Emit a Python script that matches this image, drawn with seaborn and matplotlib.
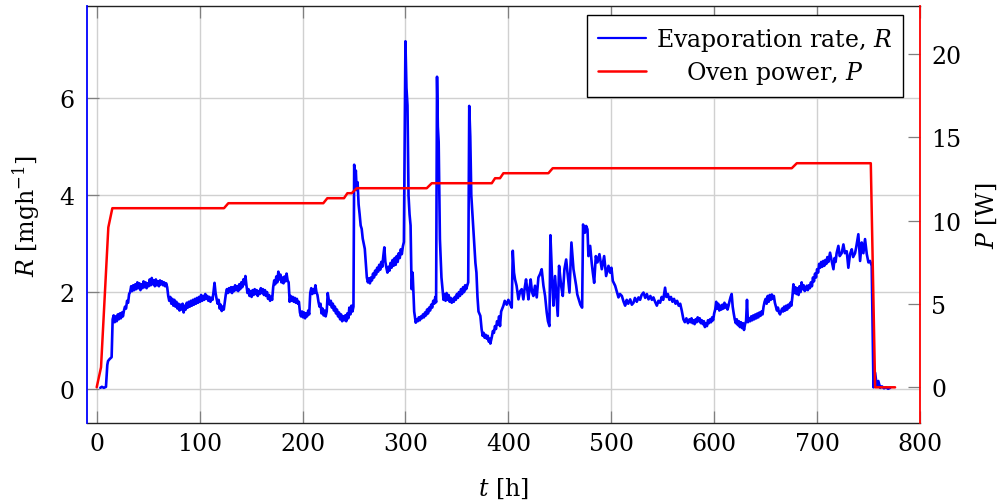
import matplotlib
matplotlib.use("Agg")
import matplotlib.pyplot as plt
import pandas as pd
import seaborn as sns

# Evaporation rate R [mg/h] over time t [h]
t_rate = [
    3.5, 5, 7, 9, 10.3, 11, 12.5, 14.5, 15.5, 16.5,
    17.5, 18.5, 19.5, 20.5, 21.5, 22.5, 23.5, 24.5, 25.5, 26.5,
    27.5, 28.5, 29.5, 30.5, 31.5, 32.5, 33.5, 34.5, 35.5, 36.5,
    37.5, 38.5, 39.5, 40.5, 41.5, 42.5, 43.5, 44.5, 45.5, 46.5,
    47.5, 48.5, 49.5, 50.5, 51.5, 52.5, 53.5, 54.5, 55.5, 56.5,
    57.5, 58.5, 59.5, 60.5, 61.5, 62.5, 63.5, 64.5, 65.5, 66.5,
    67.5, 68.5, 69.5, 70.5, 71.5, 72.5, 73.5, 74.5, 75.5, 76.5,
    77.5, 78.5, 79.5, 80.5, 81.5, 82.5, 83.5, 84.5, 85.5, 86.5,
    87.5, 88.5, 89.5, 90.5, 91.5, 92.5, 93.5, 94.5, 95.5, 96.5,
    97.5, 98.5, 99.5, 100.5, 101.5, 102.5, 103.5, 104.5, 105.5, 106.5,
    107.5, 108.5, 109.5, 110.5, 111.5, 112.5, 113.5, 114.5, 115.5, 116.5,
    117.5, 118.5, 119.5, 120.5, 121.5, 122.5, 123.5, 124.5, 125.5, 126.5,
    127.5, 128.5, 129.5, 130.5, 131.5, 132.5, 133.5, 134.5, 135.5, 136.5,
    137.5, 138.5, 139.5, 140.5, 141.5, 142.5, 143.5, 144.5, 145.5, 146.5,
    147.5, 148.5, 149.5, 150.5, 151.5, 152.5, 153.5, 154.5, 155.5, 156.5,
    157.5, 158.5, 159.5, 160.5, 161.5, 162.5, 163.5, 164.5, 165.5, 166.5,
    167.5, 168.5, 169.5, 170.5, 171.5, 172.5, 173.5, 174.5, 175.5, 176.5,
    177.5, 178.5, 179.5, 180.5, 181.5, 182.5, 183.5, 184.5, 185.5, 186.5,
    187.5, 188.5, 189.5, 190.5, 191.5, 192.5, 193.5, 194.5, 195.5, 196.5,
    197.5, 198.5, 199.5, 200.5, 201.5, 202.5, 203.5, 204.5, 205.5, 206.5,
    207.5, 208.5, 209.5, 210.5, 211.5, 212.5, 213.5, 214.5, 215.5, 216.5,
    217.5, 218.5, 219.5, 220.5, 221.5, 222.5, 223.5, 224.5, 225.5, 226.5,
    227.5, 228.5, 229.5, 230.5, 231.5, 232.5, 233.5, 234.5, 235.5, 236.5,
    237.5, 238.5, 239.5, 240.5, 241.5, 242.5, 243.5, 244.5, 245.5, 246.5,
    247.5, 248.5, 249.5, 250.2, 251, 251.8, 252.6, 253.5, 254.5, 255.5,
    256.5, 257.5, 258.5, 259.5, 260.5, 261.5, 262.5, 263.5, 264.5, 265.5,
    266.5, 267.5, 268.5, 269.5, 270.5, 271.5, 272.5, 273.5, 274.5, 275.5,
    276.5, 277.5, 278.5, 279.5, 280.5, 281.5, 282.5, 283.5, 284.5, 285.5,
    286.5, 287.5, 288.5, 289.5, 290.5, 291.5, 292.5, 293.5, 294.5, 295.5,
    296.5, 297.5, 298.5, 300, 301, 302, 303, 304, 305, 306,
    307, 308.5, 310, 311, 312, 313, 314, 315, 316, 317,
    318, 319, 320, 321, 322, 323, 324, 325, 326, 327,
    328, 329, 329.8, 330.7, 331.5, 332.3, 333.5, 335, 336, 337,
    338, 339, 340, 341, 342, 343, 344, 345, 346, 347,
    348, 349, 350, 351, 352, 353, 354, 355, 356, 357,
    358, 359, 360, 361, 362, 363, 364, 366, 368, 369,
    370, 371, 372.8, 374, 375, 376, 377, 378, 379, 380,
    381, 382, 382.5, 384, 385, 386, 387, 388, 389, 390,
    391, 391.9, 393, 395.2, 396.5, 398.4, 400, 401.5, 403.3, 404.3,
    405.5, 406.5, 408, 409.8, 411.5, 413.0, 414.6, 416, 417.2, 418.5,
    419.5, 420.5, 421.7, 423, 424.3, 425.9, 427.6, 429.2, 430.8, 432.4,
    434.1, 435.7, 437.3, 438.5, 439.9, 440.9, 442.8, 443.8, 445.4, 447.1,
    448.0, 449.3, 451.3, 452.9, 454.5, 456.2, 457.8, 459.4, 461.3, 463.3,
    465.9, 467, 468.4, 470, 471.7, 472.6, 474.3, 475.6, 476.9, 477.8,
    479.5, 481, 482.1, 483.4, 485.0, 486.6, 488.5, 490.8, 493.1, 495.0,
    497.3, 498.9, 500.2, 501.5, 503.8, 505.5, 507.0, 508.5, 510.3, 512,
    513.5, 515, 516.5, 518.4, 520, 521.6, 523, 524.8, 526.5, 528,
    529.5, 531.3, 533, 534.6, 536.2, 538, 539.5, 541.0, 542.6, 544.3,
    545.8, 547.5, 549, 550.5, 552.3, 553.5, 555, 556.5, 558, 559.5,
    561, 562.5, 564, 565.5, 567, 568.5, 570.1, 571.5, 573, 574.5,
    576, 577, 578, 579, 580, 581, 582, 583, 584, 585,
    586, 587, 588, 589, 590, 591, 592, 593, 594, 595,
    596, 597, 598, 599, 600, 601, 602, 603, 604, 605,
    606, 607, 608, 609, 610, 611, 612, 613, 614, 615,
    616, 617, 618, 619, 620, 621, 622, 623, 624, 625,
    626, 627, 628, 629, 630, 631, 631.9, 632.8, 634, 635,
    636, 637, 638, 639, 640, 641, 642, 643, 644, 645,
    646, 647, 648, 649, 650, 651, 652, 653, 654, 655,
    656, 657, 658, 659, 660, 661, 662, 663, 664, 665,
    666, 667, 668, 669, 670, 671, 672, 673, 674, 675,
    676, 677, 678, 679, 680, 681, 682, 683, 684, 685,
    686, 687, 688, 689, 690, 691, 692, 693, 694, 695,
    696, 697, 698, 699, 700, 701, 702, 703, 704, 705,
    706, 707, 708, 709, 710, 711, 712.6, 714, 715.9, 717,
    718, 719, 720.7, 722, 723.9, 725.6, 727, 728.8, 730.4, 732,
    733.7, 735, 736.9, 738, 740.1, 741.8, 743.4, 745.0, 746.6, 748.3,
    749.9, 751.5, 753.1, 754.8, 756.4, 758.0, 759.5, 761.3, 763, 765,
    767, 769, 771,
]
rate = [
    0.03, 0.05, 0.03, 0.05, 0.50, 0.58, 0.62, 0.66, 1.44, 1.52,
    1.38, 1.50, 1.40, 1.54, 1.44, 1.56, 1.46, 1.58, 1.50, 1.62,
    1.70, 1.66, 1.82, 1.78, 1.96, 2.00, 2.12, 2.02, 2.14, 2.04,
    2.16, 2.06, 2.20, 2.08, 2.18, 2.04, 2.16, 2.08, 2.22, 2.10,
    2.20, 2.08, 2.18, 2.12, 2.26, 2.14, 2.29, 2.16, 2.24, 2.12,
    2.26, 2.14, 2.22, 2.12, 2.24, 2.16, 2.22, 2.14, 2.20, 2.12,
    2.18, 2.10, 1.92, 1.82, 1.90, 1.76, 1.86, 1.72, 1.84, 1.70,
    1.80, 1.66, 1.76, 1.62, 1.74, 1.64, 1.76, 1.58, 1.72, 1.64,
    1.78, 1.68, 1.80, 1.70, 1.82, 1.72, 1.84, 1.74, 1.86, 1.76,
    1.88, 1.78, 1.90, 1.80, 1.94, 1.82, 1.92, 1.84, 1.96, 1.86,
    1.92, 1.82, 1.90, 1.80, 1.88, 1.84, 2.00, 2.19, 1.98, 1.86,
    1.76, 1.84, 1.66, 1.74, 1.61, 1.70, 1.64, 1.80, 1.96, 2.06,
    1.98, 2.08, 2.00, 2.10, 1.98, 2.10, 2.02, 2.14, 2.04, 2.12,
    2.02, 2.16, 2.06, 2.20, 2.10, 2.26, 2.16, 2.33, 2.14, 1.98,
    2.06, 1.92, 2.02, 1.90, 2.04, 1.94, 2.06, 1.96, 2.04, 1.92,
    2.02, 1.96, 2.08, 1.98, 2.06, 1.94, 2.04, 1.92, 2.00, 1.86,
    1.94, 1.82, 1.90, 1.84, 2.10, 2.24, 2.16, 2.32, 2.20, 2.42,
    2.26, 2.36, 2.20, 2.30, 2.18, 2.32, 2.22, 2.38, 2.24, 2.20,
    1.80, 1.92, 1.82, 1.90, 1.80, 1.88, 1.78, 1.86, 1.76, 1.80,
    1.58, 1.50, 1.60, 1.48, 1.58, 1.46, 1.56, 1.50, 1.62, 1.54,
    1.98, 2.08, 1.96, 2.06, 1.98, 2.14, 2.00, 1.94, 1.80, 1.70,
    1.76, 1.56, 1.66, 1.52, 1.62, 1.50, 1.60, 1.98, 1.84, 1.74,
    1.82, 1.68, 1.76, 1.62, 1.70, 1.56, 1.64, 1.50, 1.58, 1.44,
    1.54, 1.40, 1.50, 1.42, 1.52, 1.40, 1.56, 1.46, 1.68, 1.54,
    1.72, 1.60, 1.70, 4.62, 4.30, 4.50, 4.10, 4.26, 3.80, 3.60,
    3.37, 3.30, 3.10, 3.00, 2.89, 2.60, 2.30, 2.20, 2.28, 2.18,
    2.30, 2.24, 2.38, 2.30, 2.44, 2.36, 2.50, 2.42, 2.56, 2.46,
    2.62, 2.52, 2.74, 2.92, 2.62, 2.50, 2.40, 2.52, 2.44, 2.60,
    2.50, 2.66, 2.54, 2.70, 2.56, 2.74, 2.62, 2.80, 2.70, 2.88,
    2.78, 2.94, 3.03, 7.16, 6.20, 5.84, 3.99, 3.60, 3.37, 2.06,
    2.40, 1.60, 1.37, 1.44, 1.40, 1.48, 1.42, 1.50, 1.46, 1.54,
    1.48, 1.58, 1.52, 1.64, 1.56, 1.68, 1.62, 1.74, 1.68, 1.82,
    1.76, 1.90, 1.79, 6.43, 5.40, 5.09, 3.09, 2.30, 2.06, 1.84,
    1.96, 1.82, 1.98, 1.84, 1.94, 1.80, 1.88, 1.78, 1.86, 1.80,
    1.90, 1.84, 1.96, 1.88, 2.00, 1.92, 2.06, 1.96, 2.10, 2.00,
    2.14, 2.06, 2.13, 2.20, 5.83, 5.20, 3.99, 3.30, 2.60, 2.40,
    1.90, 1.60, 1.51, 1.24, 1.10, 1.16, 1.06, 1.12, 1.04, 1.10,
    0.98, 1.04, 0.94, 1.08, 1.20, 1.16, 1.30, 1.24, 1.40, 1.34,
    1.50, 1.30, 1.60, 1.72, 1.82, 1.74, 1.84, 1.76, 1.68, 2.85,
    2.40, 2.26, 2.13, 1.85, 2.02, 2.06, 1.85, 2.10, 2.26, 2.02,
    1.85, 2.06, 2.26, 2.00, 1.92, 2.13, 1.89, 2.30, 2.37, 2.47,
    2.13, 1.92, 1.58, 1.40, 1.30, 3.17, 2.13, 1.72, 2.33, 1.78,
    1.51, 2.54, 2.13, 1.92, 2.47, 2.67, 2.33, 1.99, 3.02, 2.47,
    2.13, 1.95, 1.85, 1.74, 1.68, 3.39, 3.22, 3.36, 3.29, 2.74,
    2.95, 2.60, 2.40, 2.19, 2.74, 2.61, 2.78, 2.47, 2.74, 2.33,
    2.54, 2.40, 2.50, 2.23, 2.13, 2.00, 1.89, 1.96, 1.92, 1.80,
    1.72, 1.84, 1.76, 1.85, 1.74, 1.78, 1.88, 1.80, 1.89, 1.84,
    1.94, 1.99, 1.88, 1.96, 1.85, 1.92, 1.84, 1.89, 1.80, 1.72,
    1.82, 1.78, 1.90, 1.84, 2.09, 1.90, 1.96, 1.84, 1.90, 1.80,
    1.86, 1.76, 1.82, 1.72, 1.76, 1.62, 1.44, 1.38, 1.46, 1.36,
    1.44, 1.38, 1.46, 1.36, 1.42, 1.34, 1.44, 1.38, 1.48, 1.40,
    1.46, 1.36, 1.42, 1.34, 1.40, 1.28, 1.36, 1.30, 1.42, 1.36,
    1.44, 1.38, 1.48, 1.42, 1.56, 1.64, 1.80, 1.66, 1.76, 1.62,
    1.72, 1.64, 1.74, 1.66, 1.78, 1.68, 1.74, 1.64, 1.72, 1.82,
    1.90, 1.96, 1.70, 1.56, 1.44, 1.36, 1.44, 1.32, 1.40, 1.28,
    1.38, 1.26, 1.36, 1.22, 1.34, 1.40, 1.84, 1.38, 1.46, 1.40,
    1.50, 1.42, 1.52, 1.44, 1.54, 1.46, 1.56, 1.48, 1.58, 1.51,
    1.60, 1.54, 1.70, 1.80, 1.86, 1.76, 1.92, 1.80, 1.94, 1.84,
    1.95, 1.86, 1.92, 1.78, 1.70, 1.62, 1.68, 1.58, 1.54, 1.60,
    1.66, 1.60, 1.70, 1.62, 1.72, 1.64, 1.74, 1.68, 1.78, 1.72,
    1.90, 2.16, 1.98, 2.10, 1.96, 2.08, 1.94, 2.12, 2.00, 2.20,
    2.06, 2.14, 2.02, 2.06, 2.13, 2.04, 2.14, 2.08, 2.20, 2.12,
    2.30, 2.22, 2.38, 2.30, 2.47, 2.40, 2.58, 2.50, 2.62, 2.52,
    2.64, 2.54, 2.66, 2.58, 2.72, 2.62, 2.81, 2.66, 2.47, 2.70,
    2.62, 2.80, 2.95, 2.74, 2.80, 2.98, 2.80, 2.84, 2.50, 2.78,
    2.88, 2.72, 2.80, 2.92, 3.19, 2.64, 3.02, 2.80, 3.09, 2.78,
    2.61, 2.64, 2.54, 0.04, 0.34, 0.07, 0.17, 0.03, 0.06, 0.02,
    0.04, 0.01, 0.03,
]

# Oven power P [W] over time t [h]
t_power = [0, 4.2, 11.3, 15.2, 123.7, 127.9, 220.2, 224.1, 240.3, 243.6,
           247.8, 252.7, 320.7, 325.6, 383.9, 387.1, 391.9, 395.2, 438.9, 443.1,
           675.4, 680.3, 752.2, 756.4, 775.8]
power = [0, 1.2, 9.6, 10.75, 10.75, 11.05, 11.05, 11.35, 11.35, 11.65,
         11.65, 11.95, 11.95, 12.25, 12.25, 12.55, 12.55, 12.85, 12.85, 13.15,
         13.15, 13.45, 13.45, 0, 0]

t_ticks = [0, 100, 200, 300, 400, 500, 600, 700, 800]
rate_ticks = [0, 2, 4, 6]
power_ticks = [0, 5, 10, 15, 20]

rate_label = "Evaporation rate, $R$"
power_label = "    Oven power, $P$"

sns.set_theme(style="white")
plt.rcParams["font.family"] = ["DejaVu Serif"]
plt.rcParams["mathtext.fontset"] = "dejavuserif"
plt.rcParams["text.color"] = "black"
plt.rcParams["axes.labelcolor"] = "black"
plt.rcParams["xtick.color"] = "black"
plt.rcParams["ytick.color"] = "black"

FS = 17
BLUE = "#0000ff"
RED = "#ff0000"
TICK_GRAY = "#7f7f7f"

df_rate = pd.DataFrame({"t": t_rate, "R": rate})
df_power = pd.DataFrame({"t": t_power, "P": power})

fig = plt.figure(figsize=(10.06, 5.02), dpi=100)
ax = fig.add_axes([0.0862, 0.1548, 0.8283, 0.8307])
ax2 = ax.twinx()

sns.lineplot(data=df_rate, x="t", y="R", ax=ax, color=BLUE, lw=1.9,
             estimator=None, sort=False, legend=False)
sns.lineplot(data=df_power, x="t", y="P", ax=ax2, color=RED, lw=1.8,
             estimator=None, sort=False, legend=False)

ax.set_xlim(-9.7, 800)
ax.set_ylim(-0.70, 7.88)
ax2.set_ylim(-2.16, 22.87)

ax.set_xticks(t_ticks)
ax.set_yticks(rate_ticks)
ax2.set_yticks(power_ticks)

ax.set_axisbelow(True)
ax.grid(True, color="#d0d0d0", lw=1.0)

ax.tick_params(axis="both", direction="in", length=8.5, width=0.9,
               color=TICK_GRAY, labelsize=FS, labelcolor="black")
ax.tick_params(axis="x", top=True, bottom=True, pad=6)
ax.tick_params(axis="y", left=True, right=False, pad=9)
ax2.tick_params(axis="y", direction="in", length=8.5, width=0.9,
                color=TICK_GRAY, labelsize=FS, labelcolor="black",
                right=True, left=False, pad=8)

for side in ("top", "bottom"):
    ax.spines[side].set_color("#222222")
    ax.spines[side].set_linewidth(1.0)
ax.spines["right"].set_visible(False)
for side in ("left", "top", "bottom"):
    ax2.spines[side].set_visible(False)
# coloured y-axis lines, drawn on the upper axes so nothing covers them
ax.spines["left"].set_visible(False)
ax2.spines["left"].set_visible(True)
ax2.spines["left"].set_color(BLUE)
ax2.spines["left"].set_linewidth(1.3)
ax2.spines["right"].set_color(RED)
ax2.spines["right"].set_linewidth(1.3)

ax.set_xlabel("$t$ [h]", fontsize=FS, labelpad=15)
ax.set_ylabel("$R$ [mgh$^{-1}$]", fontsize=FS, labelpad=12)
ax2.set_ylabel("$P$ [W]", fontsize=FS, rotation=90, labelpad=10)

handles = [
    plt.Line2D([], [], color=BLUE, lw=1.6),
    plt.Line2D([], [], color=RED, lw=1.8),
]
leg = ax2.legend(handles, [rate_label, power_label], loc="upper right",
                 bbox_to_anchor=(0.9796, 0.979), borderaxespad=0,
                 fontsize=FS, frameon=True, fancybox=False, framealpha=1,
                 edgecolor="black", handlelength=2.05, handletextpad=0.4,
                 borderpad=0.47, labelspacing=0.25)
leg.get_frame().set_linewidth(1.0)

fig.savefig("out.png", dpi=100)
